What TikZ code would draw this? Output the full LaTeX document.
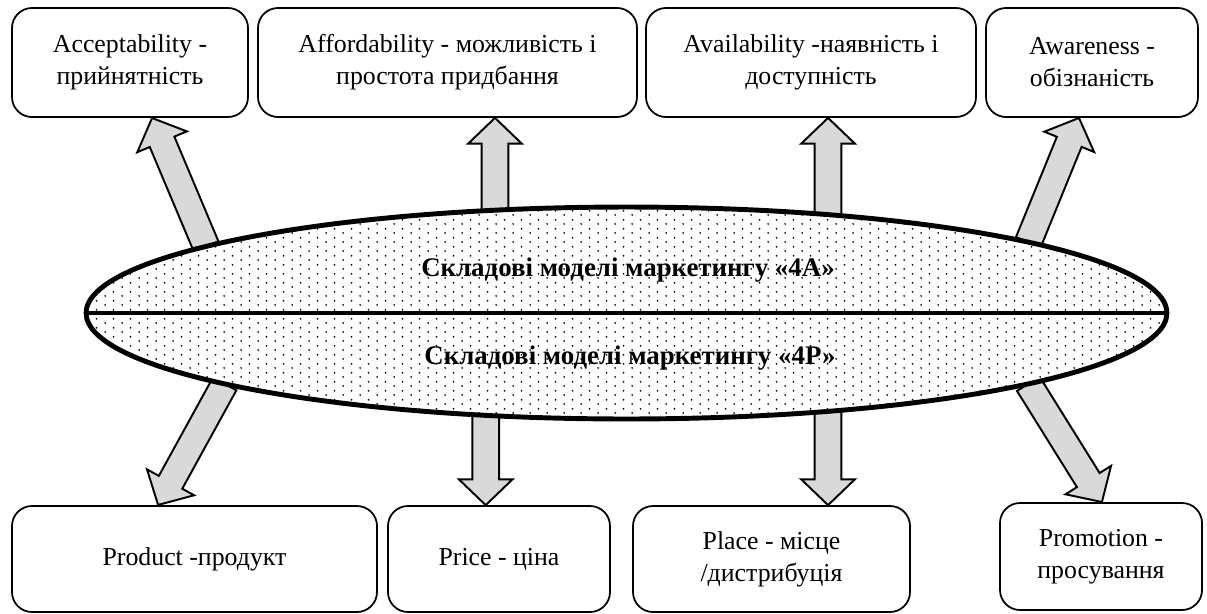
\documentclass[tikz,border=0pt]{standalone}
\usepackage{fontspec}
\setmainfont{Liberation Serif}
\usetikzlibrary{calc,shapes.geometric,patterns.meta,backgrounds}
\definecolor{arrowgray}{RGB}{217,217,217}
\tikzdeclarepattern{
  name=ovaldots,
  type=uncolored,
  bottom left={(0pt,0pt)},
  top right={(9.6pt,4.9pt)},
  tile size={(9.6pt,4.9pt)},
  code={
    \fill (2.4pt,1.2pt) circle (0.55pt);
    \fill (7.2pt,3.65pt) circle (0.55pt);
  }
}
\tikzset{
  card/.style={draw, line width=1pt, rounded corners=0.4cm, fill=white, inner sep=0pt, align=center},
  oval/.style={draw, ellipse, line width=2.8pt, inner sep=0pt, outer sep=0pt, fill=white, postaction={pattern=ovaldots}},
  ovallabel/.style={font=\fontsize{15.3}{18}\selectfont\bfseries},
  blockarrow/.style={draw, fill=arrowgray, line width=1.1pt, line join=miter,
    to path={let \p1=(\tikztostart), \p2=(\tikztotarget),
      \n1={atan2(\y2-\y1,\x2-\x1)}, \n2={veclen(\x2-\x1,\y2-\y1)} in
      [shift={(\p1)}, rotate=\n1]
      (0pt,-7.6pt) -- ({\n2*1pt-14.7pt},-7.6pt) -- ({\n2*1pt-14.7pt},-15.3pt)
      -- ({\n2*1pt},0pt) -- ({\n2*1pt-14.7pt},15.3pt) -- ({\n2*1pt-14.7pt},7.6pt)
      -- (0pt,7.6pt) -- cycle}},
}
\begin{document}
\begin{tikzpicture}[x=0.02cm, y=-0.02cm, every node/.style={font=\fontsize{14.7}{18.3}\selectfont}]
  \useasboundingbox (0,0) rectangle (1207,613);
  % boxes
  \foreach \nm/\x/\y/\X/\Y/\txt in {
      acc/12/8/248/117/{Acceptability -\\прийнятність},
      aff/258/8/637/117/{Affordability - можливість і\\простота придбання},
      avl/646/8/976/117/{Availability -наявність і\\доступність},
      awa/986/8/1198/117/{Awareness -\\обізнаність},
      prod/12/506/377/612/{Product -продукт},
      price/388/506/610/612/{Price - ціна},
      place/633/506/910/612/{Place - місце\\/дистрибуція},
      promo/1000/503/1202/610/{Promotion -\\просування}}
    \node[card, minimum width={(\X-\x)*0.02cm}, minimum height={(\Y-\y)*0.02cm}]
      (\nm) at ({(\x+\X)/2},{(\y+\Y)/2}) {\txt};
  % the oval
  \node[oval, minimum width=21.62cm, minimum height=4.24cm] (ell) at (626.5,313) {};
  \draw[line width=2.4pt] (ell.west) -- (ell.east);
  \node[ovallabel] (lab4a) at (628,270) {Складові моделі маркетингу «4А»};
  \node[ovallabel] (lab4p) at (630,358) {Складові моделі маркетингу «4Р»};
  \begin{pgfonlayer}{background}
    \draw[blockarrow] (ell.171.2) to (152,0 |- acc.south);
    \draw[blockarrow] (ell.142.5) to (ell.142.5 |- aff.south);
    \draw[blockarrow] (ell.26.2) to (ell.26.2 |- avl.south);
    \draw[blockarrow] (ell.10.1) to (1079,0 |- awa.south);
    \draw[blockarrow] (ell.190.6) to (158,0 |- prod.north);
    \draw[blockarrow] (ell.216.1) to (ell.216.1 |- price.north);
    \draw[blockarrow] (ell.334.9) to (ell.334.9 |- place.north);
    \draw[blockarrow] (ell.350.2) to (1102,0 |- promo.north);
  \end{pgfonlayer}
\end{tikzpicture}
\end{document}
